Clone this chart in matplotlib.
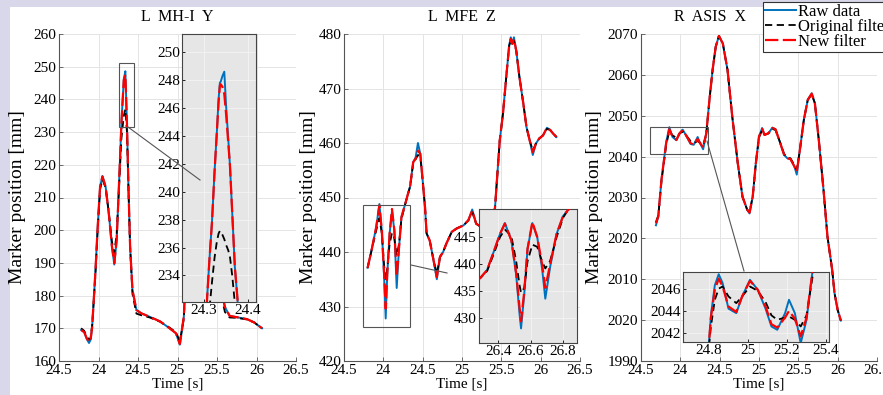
import numpy as np
import matplotlib
matplotlib.use('Agg')
import matplotlib.pyplot as plt
from matplotlib.lines import Line2D
from matplotlib.patches import Rectangle

plt.rcParams['font.family'] = ['Liberation Serif', 'DejaVu Serif']
plt.rcParams['font.size'] = 11

# ---- L MH-I Y ----
t1 = [23.78, 23.82, 23.85, 23.88, 23.90, 23.92, 23.96, 23.99, 24.02, 24.05, 24.09, 24.13,
      24.17, 24.20, 24.23, 24.26, 24.29, 24.32, 24.34, 24.36, 24.38, 24.40, 24.43, 24.48,
      24.54, 24.65, 24.78, 24.90, 24.98, 25.03, 25.08, 25.12, 25.18, 25.25, 25.32, 25.40,
      25.48, 25.55, 25.60, 25.66, 25.75, 25.88, 25.97, 26.07]
new1 = [169.5, 168.8, 167.0, 165.8, 166.5, 170.5, 186.9, 201.1, 213.3, 216.4, 213.3, 205.2,
        195.0, 189.9, 197.0, 214.3, 232.7, 245.9, 247.5, 232.7, 212.3, 195.0, 181.7, 175.6,
        174.6, 173.5, 172.1, 170.0, 168.5, 165.2, 173.5, 195.0, 225.0, 245.0, 235.0, 215.0,
        195.0, 182.0, 176.5, 173.8, 173.4, 172.8, 171.8, 170.0]
raw1 = [169.5, 168.8, 166.8, 165.5, 166.5, 170.5, 186.9, 201.1, 213.3, 216.6, 213.3, 205.2,
        195.0, 189.5, 197.0, 214.3, 232.7, 246.2, 248.6, 232.7, 212.3, 195.0, 181.7, 175.6,
        174.6, 173.5, 172.1, 170.0, 168.5, 165.0, 173.5, 195.0, 225.0, 246.0, 235.0, 215.0,
        195.0, 182.0, 176.5, 173.8, 173.4, 172.8, 171.8, 170.0]
orig1 = [170.0, 169.2, 167.5, 166.5, 167.0, 171.0, 186.0, 200.5, 212.5, 215.5, 213.0, 205.5,
         196.5, 193.0, 199.0, 213.0, 228.0, 235.0, 237.0, 230.0, 212.0, 195.0, 180.5, 174.5,
         174.0, 173.3, 172.0, 170.2, 168.8, 166.0, 173.0, 194.0, 220.0, 236.0, 230.0, 212.0,
         193.0, 180.5, 175.0, 173.3, 173.2, 172.7, 171.8, 170.0]

ti1 = [24.300, 24.307, 24.312, 24.318, 24.324, 24.329, 24.333, 24.336, 24.338, 24.342,
       24.346, 24.350, 24.355, 24.359, 24.364, 24.370, 24.376, 24.382]
newi1 = [228.0, 232.4, 235.0, 237.8, 241.5, 244.2, 246.4, 247.6, 247.7, 247.5,
         247.0, 245.6, 243.5, 241.8, 238.5, 234.6, 232.3, 229.0]
rawi1 = [228.0, 232.4, 235.0, 237.8, 241.5, 244.2, 246.6, 247.8, 247.9, 248.3,
         248.6, 246.2, 243.8, 241.8, 238.5, 234.6, 232.3, 229.0]
origi1 = [227.5, 229.8, 231.5, 233.5, 235.3, 236.4, 237.0, 237.2, 237.1, 236.9,
          236.6, 236.2, 235.8, 235.3, 234.0, 232.0, 230.0, 228.0]

# ---- L MFE Z ----
t2 = [23.80, 23.85, 23.91, 23.95, 23.98, 24.01, 24.03, 24.05, 24.08, 24.11, 24.14, 24.17,
      24.20, 24.23, 24.28, 24.31, 24.34, 24.38, 24.41, 24.44, 24.47, 24.50, 24.53, 24.55,
      24.59, 24.63, 24.68, 24.72, 24.76, 24.80, 24.87, 24.93, 25.02, 25.08, 25.13, 25.18,
      25.25, 25.32, 25.38, 25.42, 25.45, 25.48, 25.52, 25.57, 25.60, 25.62, 25.64, 25.66,
      25.69, 25.73, 25.78, 25.82, 25.86, 25.90, 25.94, 25.98, 26.03, 26.08, 26.12, 26.16, 26.20]
new2 = [437.1, 440.3, 444.6, 448.6, 444.0, 436.0, 429.6, 436.0, 443.4, 447.9, 444.0, 435.5,
        440.9, 446.4, 448.9, 450.5, 452.0, 456.5, 457.1, 458.6, 458.0, 453.1, 448.2, 443.4,
        442.1, 439.1, 435.4, 439.1, 440.0, 441.5, 443.7, 444.3, 444.9, 445.8, 447.6, 445.2,
        444.5, 444.0, 445.0, 448.2, 454.4, 460.5, 465.3, 473.3, 477.9, 479.1, 478.2, 479.1,
        476.9, 472.1, 467.2, 462.9, 460.5, 458.3, 459.9, 460.8, 461.4, 462.8, 462.4, 461.7, 461.1]
raw2 = [437.1, 440.3, 444.6, 448.8, 444.0, 435.5, 427.8, 436.0, 443.4, 447.5, 444.0, 433.4,
        440.9, 446.4, 448.9, 450.5, 452.0, 456.5, 457.3, 460.0, 458.0, 453.1, 448.2, 443.4,
        442.1, 439.1, 435.0, 439.1, 440.0, 441.5, 443.7, 444.3, 444.9, 445.8, 447.8, 445.2,
        444.5, 444.0, 445.0, 448.2, 454.4, 460.5, 465.3, 473.3, 477.9, 479.4, 478.2, 479.4,
        476.9, 472.1, 467.2, 462.9, 460.5, 457.8, 459.9, 460.8, 461.4, 462.8, 462.4, 461.7, 461.1]
orig2 = [437.1, 440.3, 444.0, 446.2, 443.5, 437.5, 434.9, 437.0, 441.5, 443.5, 442.5, 439.3,
         441.5, 446.0, 448.9, 450.5, 452.0, 456.3, 457.0, 457.8, 457.5, 453.1, 448.2, 443.4,
         442.1, 439.1, 436.0, 439.1, 440.0, 441.5, 443.7, 444.3, 444.9, 445.8, 447.3, 445.2,
         444.5, 444.0, 445.0, 448.2, 454.4, 460.5, 465.3, 473.3, 477.9, 478.8, 478.2, 478.8,
         476.9, 472.1, 467.2, 462.9, 460.5, 458.6, 459.9, 460.8, 461.4, 462.6, 462.4, 461.7, 461.1]

ti2 = [26.27, 26.29, 26.33, 26.37, 26.41, 26.44, 26.48, 26.51, 26.53, 26.54, 26.56, 26.58,
       26.61, 26.64, 26.67, 26.69, 26.72, 26.76, 26.80, 26.83, 26.87]
newi2 = [437.0, 437.5, 438.9, 442.2, 445.6, 447.5, 444.4, 438.3, 432.2, 429.4, 435.0, 442.8,
         447.8, 445.0, 440.0, 435.6, 440.0, 445.6, 448.9, 450.0, 451.0]
rawi2 = [437.0, 437.5, 438.9, 442.2, 445.6, 447.6, 444.4, 438.0, 431.0, 428.1, 434.5, 442.8,
         447.6, 445.0, 439.2, 433.6, 439.5, 445.6, 448.9, 450.0, 451.0]
origi2 = [437.0, 437.5, 438.7, 441.8, 445.0, 446.4, 445.2, 440.5, 436.2, 434.7, 435.6, 440.5,
          443.6, 443.2, 440.5, 439.2, 440.6, 445.0, 448.6, 450.0, 451.0]

# ---- R ASIS X ----
t3 = [23.69, 23.72, 23.76, 23.82, 23.86, 23.90, 23.95, 23.99, 24.03, 24.07, 24.13, 24.17,
      24.22, 24.25, 24.29, 24.33, 24.37, 24.41, 24.45, 24.49, 24.54, 24.60, 24.66, 24.73,
      24.79, 24.85, 24.88, 24.92, 24.96, 25.00, 25.04, 25.07, 25.12, 25.17, 25.21, 25.27,
      25.32, 25.36, 25.40, 25.45, 25.48, 25.52, 25.57, 25.62, 25.67, 25.71, 25.76, 25.82,
      25.87, 25.93, 25.96, 26.00, 26.04]
new3 = [2023.7, 2025.4, 2034.3, 2043.3, 2046.7, 2044.9, 2044.1, 2045.7, 2046.5, 2045.3,
        2043.3, 2042.9, 2044.3, 2043.3, 2042.3, 2045.7, 2053.9, 2061.2, 2066.9, 2069.5,
        2067.7, 2061.2, 2049.8, 2038.4, 2030.2, 2027.0, 2026.3, 2030.2, 2038.4, 2044.9,
        2046.8, 2045.3, 2045.7, 2047.0, 2046.7, 2043.3, 2040.4, 2039.6, 2039.4, 2037.6,
        2036.3, 2041.7, 2049.0, 2053.9, 2055.4, 2053.1, 2044.1, 2031.9, 2020.5, 2012.3,
        2006.6, 2002.5, 1999.9]
raw3 = [2023.2, 2025.4, 2034.3, 2043.5, 2047.2, 2044.8, 2044.0, 2045.7, 2046.6, 2045.3,
        2043.1, 2042.9, 2044.8, 2043.3, 2041.8, 2045.7, 2053.9, 2061.2, 2066.9, 2069.5,
        2067.7, 2061.2, 2049.8, 2038.4, 2030.2, 2027.0, 2026.1, 2030.2, 2038.4, 2044.9,
        2047.0, 2045.3, 2045.7, 2047.1, 2046.7, 2043.3, 2040.4, 2039.6, 2039.4, 2037.6,
        2035.6, 2041.7, 2049.0, 2053.9, 2055.5, 2053.1, 2044.1, 2031.9, 2020.5, 2012.3,
        2006.6, 2002.5, 1999.9]
orig3 = [2024.0, 2025.6, 2034.0, 2042.8, 2046.3, 2045.2, 2044.6, 2045.6, 2046.2, 2045.3,
         2043.8, 2043.3, 2043.8, 2043.4, 2042.8, 2045.5, 2053.9, 2061.2, 2066.9, 2069.5,
         2067.7, 2061.2, 2049.8, 2038.4, 2030.2, 2027.0, 2026.5, 2030.2, 2038.4, 2044.7,
         2046.5, 2045.4, 2045.7, 2046.8, 2046.5, 2043.4, 2040.6, 2039.8, 2039.6, 2037.9,
         2036.8, 2041.7, 2049.0, 2053.9, 2055.2, 2053.1, 2044.1, 2031.9, 2020.5, 2012.3,
         2006.6, 2002.5, 1999.9]

ti3 = [24.79, 24.80, 24.81, 24.83, 24.85, 24.87, 24.90, 24.94, 24.97, 25.01, 25.05, 25.09,
       25.12, 25.15, 25.19, 25.21, 25.24, 25.27, 25.30, 25.33, 25.35]
newi3 = [2040.0, 2041.1, 2043.4, 2045.9, 2046.9, 2046.2, 2044.4, 2043.9, 2045.3, 2046.7,
         2045.9, 2044.4, 2042.8, 2042.5, 2043.4, 2044.0, 2043.3, 2041.7, 2043.4, 2047.5, 2049.0]
rawi3 = [2040.0, 2041.1, 2043.6, 2046.3, 2047.3, 2046.5, 2044.2, 2043.8, 2045.3, 2046.8,
         2045.9, 2044.2, 2042.6, 2042.3, 2043.8, 2045.0, 2043.8, 2041.1, 2043.2, 2047.5, 2049.0]
origi3 = [2039.8, 2040.8, 2042.6, 2045.0, 2046.0, 2046.2, 2045.3, 2044.7, 2045.3, 2046.2,
          2045.8, 2044.8, 2043.6, 2043.2, 2043.4, 2043.5, 2043.2, 2042.6, 2043.6, 2047.0, 2049.0]

x_ticks = [23.5, 24, 24.5, 25, 25.5, 26, 26.5]
x_tick_labels = ['24.5', '24', '24.5', '25', '25.5', '26', '26.5']
y1_ticks = [160, 170, 180, 190, 200, 210, 220, 230, 240, 250, 260]
y2_ticks = [420, 430, 440, 450, 460, 470, 480]
y3_ticks = [1990, 2000, 2010, 2020, 2030, 2040, 2050, 2060, 2070]
y3_tick_labels = ['1990', '2020', '2010', '2020', '2030', '2040', '2050', '2060', '2070']
in3_x_ticks = [24.8, 25, 25.2, 25.4]
in3_x_labels = ['24.8', '25', '25.2', '25.4']

BLUE = '#0072BD'
W, H = 883, 395


def box(x0, y0, x1, y1):
    return [x0 / W, 1 - y1 / H, (x1 - x0) / W, (y1 - y0) / H]


def draw_lines(ax, t, raw, orig, new):
    ax.plot(t, raw, color=BLUE, lw=1.4, zorder=3)
    ax.plot(t, orig, color='black', lw=1.3, ls=(0, (4, 2.5)), zorder=4)
    ax.plot(t, new, color='red', lw=1.6, ls=(0, (6, 2)), zorder=5)


def style_main(ax, title, ylim, yticks, ylabel_x, title_x=0.5):
    ax.set_xlim(23.5, 26.5)
    ax.set_ylim(*ylim)
    ax.set_xticks(x_ticks)
    ax.set_xticklabels(x_tick_labels)
    ax.set_yticks(yticks)
    ax.grid(True, color='#e4e4e4', lw=0.7)
    ax.set_axisbelow(True)
    for s in ['top', 'right']:
        ax.spines[s].set_visible(False)
    for s in ['left', 'bottom']:
        ax.spines[s].set_color('#555555')
        ax.spines[s].set_linewidth(0.8)
    ax.tick_params(direction='in', length=3, width=0.6, color='#555555', pad=2, labelsize=11)
    ax.set_title(title, fontsize=11.5, x=title_x, y=1.015)
    ax.set_ylabel('Marker position [mm]', fontsize=14)
    ax.yaxis.set_label_coords(ylabel_x, 0.5)
    ax.set_xlabel('Time [s]', fontsize=11)
    ax.xaxis.set_label_coords(0.5, -0.05)


def style_inset(ax, xlim, ylim, xticks, yticks):
    ax.set_facecolor('#e6e6e6')
    ax.set_xlim(*xlim)
    ax.set_ylim(*ylim)
    ax.set_xticks(xticks)
    ax.set_yticks(yticks)
    ax.grid(True, color='#f4f4f4', lw=0.6)
    ax.set_axisbelow(True)
    for s in ax.spines.values():
        s.set_color('#444444')
        s.set_linewidth(0.8)
    ax.tick_params(direction='in', length=2.5, width=0.6, pad=1.5, labelsize=11)


def connector(fig, p0, p1):
    fig.add_artist(Line2D([p0[0] / W, p1[0] / W], [1 - p0[1] / H, 1 - p1[1] / H],
                          transform=fig.transFigure, color='#555555', lw=0.8, zorder=20))


fig = plt.figure(figsize=(8.83, 3.95), dpi=100, facecolor='#d8d8ea')
fig.add_artist(Rectangle((10 / W, 0), 1, 1 - 7 / H, transform=fig.transFigure,
                         facecolor='white', edgecolor='none', zorder=-10))

# panel 1
ax1 = fig.add_axes(box(59, 34, 296, 361))
draw_lines(ax1, t1, raw1, orig1, new1)
style_main(ax1, 'L  MH-I  Y', (160, 260), y1_ticks, -0.139)
ax1.add_patch(Rectangle((24.264, 231.5), 0.19, 19.5, fill=False, ec='#555555', lw=0.8, zorder=6))
in1 = fig.add_axes(box(182, 34, 256, 302))
draw_lines(in1, ti1, rawi1, origi1, newi1)
style_inset(in1, (24.25, 24.418), (232.1, 251.3), [24.3, 24.4], range(234, 251, 2))
connector(fig, (128, 127), (200, 180))

# panel 2
ax2 = fig.add_axes(box(344, 34, 580, 361))
draw_lines(ax2, t2, raw2, orig2, new2)
style_main(ax2, 'L  MFE  Z', (420, 480), y2_ticks, -0.114)
ax2.add_patch(Rectangle((23.74, 426.2), 0.6, 22.4, fill=False, ec='#555555', lw=0.8, zorder=6))
in2 = fig.add_axes(box(479, 209, 577, 343))
draw_lines(in2, ti2, rawi2, origi2, newi2)
style_inset(in2, (26.28, 26.886), (425.4, 450.2), [26.4, 26.6, 26.8], [430, 435, 440, 445])
connector(fig, (411, 265), (447, 273))

# panel 3
ax3 = fig.add_axes(box(641, 34, 877, 361))
draw_lines(ax3, t3, raw3, orig3, new3)
style_main(ax3, 'R  ASIS  X', (1990, 2070), y3_ticks, -0.161, title_x=0.292)
ax3.set_yticklabels(y3_tick_labels)
ax3.add_patch(Rectangle((23.61, 2040.7), 0.74, 6.5, fill=False, ec='#555555', lw=0.8, zorder=6))
in3 = fig.add_axes(box(683, 272, 829, 342))
draw_lines(in3, ti3, rawi3, origi3, newi3)
style_inset(in3, (24.667, 25.415), (2041.2, 2047.5), in3_x_ticks, [2042, 2044, 2046])
in3.set_xticklabels(in3_x_labels)
connector(fig, (707, 141), (744, 271))

handles = [Line2D([], [], color=BLUE, lw=1.4),
           Line2D([], [], color='black', lw=1.3, ls=(0, (4, 2.5))),
           Line2D([], [], color='red', lw=1.6, ls=(0, (6, 2)))]
leg = fig.legend(handles, ['Raw data', 'Original filter', 'New filter'],
                 loc='upper left', bbox_to_anchor=(763 / W, 1 - 2 / H), fontsize=12,
                 frameon=True, fancybox=False, edgecolor='#333333', framealpha=1,
                 borderpad=0.1, labelspacing=-0.05, handlelength=1.9, handletextpad=0.1,
                 borderaxespad=0)
leg.get_frame().set_linewidth(0.8)

fig.savefig('out.png', dpi=100, facecolor=fig.get_facecolor())
